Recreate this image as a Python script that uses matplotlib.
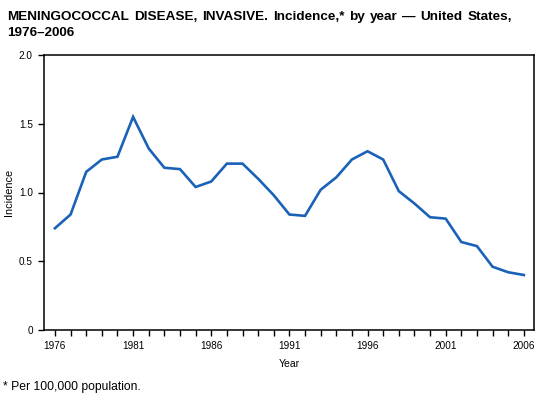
import numpy as np
import matplotlib.pyplot as plt

plt.rcParams['font.family'] = ['Liberation Sans', 'DejaVu Sans']

years = np.arange(1976, 2007)
incidence = [0.74, 0.84, 1.15, 1.24, 1.26, 1.55, 1.32, 1.18, 1.17, 1.04,
             1.08, 1.21, 1.21, 1.10, 0.98, 0.84, 0.83, 1.02, 1.11, 1.24,
             1.30, 1.24, 1.01, 0.92, 0.82, 0.81, 0.64, 0.61, 0.46, 0.42, 0.40]
xtick_years = [1976, 1981, 1986, 1991, 1996, 2001, 2006]
yticks = [0, 0.5, 1.0, 1.5, 2.0]
ytick_labels = ['0', '0.5', '1.0', '1.5', '2.0']
title_line1 = 'MENINGOCOCCAL DISEASE, INVASIVE. Incidence,* by year \u2014 United States,'
title_line2 = '1976\u20132006'

W, H = 546, 400
fig = plt.figure(figsize=(W/100, H/100), dpi=100)
ax = fig.add_axes([44/W, 70/H, 490/W, 275/H])

ax.plot(years, incidence, color='#1a62b8', lw=1.9, solid_joinstyle='miter')

ax.set_xlim(1975.3, 2006.65)
ax.set_ylim(0, 2.0)
ax.set_xticks(years, minor=True)
ax.set_xticks(xtick_years)
ax.set_xticklabels([str(y) for y in xtick_years])
ax.set_yticks(yticks)
ax.set_yticklabels(ytick_labels)
ax.tick_params(axis='both', which='both', direction='out', length=4, width=1,
               labelsize=7.2, colors='black')
ax.tick_params(axis='x', pad=4)
ax.tick_params(axis='y', pad=4)
for s in ax.spines.values():
    s.set_linewidth(1.1)
    s.set_color('black')

ax.set_xlabel('Year', fontsize=7.5, labelpad=6)
ax.set_ylabel('Incidence', fontsize=7.8)
ax.yaxis.set_label_coords(-30/490, 0.5)

# justified first title line
x0, x1 = 7, 512
words = title_line1.split(' ')
renderer = fig.canvas.get_renderer()
objs = [fig.text(0, 1 - 17/H, w, fontsize=9.7, fontweight='bold', va='center', ha='left')
        for w in words]
widths = [o.get_window_extent(renderer).width for o in objs]
gap = (x1 - x0 - sum(widths)) / (len(words) - 1)
x = x0
for o, w in zip(objs, widths):
    o.set_x(x / W)
    x += w + gap
fig.text(x0/W, 1 - 33/H, title_line2, fontsize=9.7, fontweight='bold', va='center', ha='left')

fig.text(3/W, 1 - 387/H, '* Per 100,000 population.', fontsize=8.7, va='center', ha='left')

fig.savefig('out.png', dpi=100)
